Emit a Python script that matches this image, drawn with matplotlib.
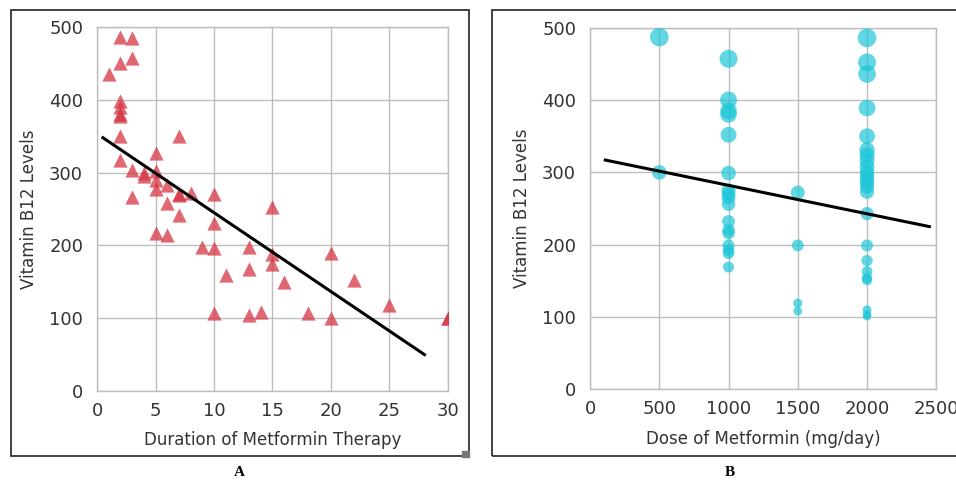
import matplotlib.pyplot as plt
from matplotlib.patches import Rectangle
import numpy as np

# Panel A: duration of therapy (years) vs B12
duration = [1, 2, 3, 3, 2, 2, 2, 2, 2, 2, 2, 7, 3, 4, 4, 5, 5, 5, 5, 6, 6, 3, 7, 7, 8,
            7, 5, 6, 10, 10, 9, 10, 13, 15, 15, 15, 11, 13, 16, 20, 22, 25, 10, 13, 14,
            18, 20, 30, 30]
b12_a = [435, 487, 485, 458, 451, 399, 390, 381, 378, 350, 317, 351, 304, 299, 296,
         327, 302, 290, 277, 283, 258, 267, 270, 269, 272, 242, 217, 215, 270, 231,
         198, 197, 198, 253, 188, 175, 160, 167, 150, 189, 152, 118, 107, 104, 109,
         107, 100, 101, 101]
trend_a_x = [0.5, 28]
trend_a_y = [348, 50]

# Panel B: dose (mg/day) vs B12
dose = [500, 500,
        1000, 1000, 1000, 1000, 1000, 1000, 1000, 1000, 1000, 1000, 1000, 1000, 1000,
        1000, 1000, 1000, 1000,
        1500, 1500, 1500, 1500,
        2000, 2000, 2000, 2000, 2000, 2000, 2000, 2000, 2000, 2000, 2000, 2000, 2000,
        2000, 2000, 2000, 2000, 2000, 2000, 2000, 2000, 2000, 2000, 2000]
b12_b = [487, 300,
         457, 400, 385, 380, 352, 299, 275, 270, 265, 256, 232, 220, 216, 199, 192,
         188, 169,
         272, 199, 119, 108,
         486, 452, 436, 389, 350, 331, 324, 316, 308, 300, 295, 290, 285, 280, 273,
         243, 199, 178, 163, 154, 151, 110, 104, 101]
trend_b_x = [110, 2450]
trend_b_y = [317, 225]

grid_c = '#bdbdbd'
text_c = '#333333'

fig = plt.figure(figsize=(9.56, 4.84), dpi=100)
fig.patch.set_facecolor('white')


def style(ax, xlabel):
    ax.grid(True, color=grid_c, lw=1)
    ax.set_axisbelow(True)
    for s in ax.spines.values():
        s.set_color(grid_c)
        s.set_linewidth(1)
    ax.tick_params(length=0, labelsize=13, colors=text_c)
    ax.tick_params(axis='y', pad=10)
    ax.tick_params(axis='x', pad=8)
    ax.set_ylim(0, 500)
    ax.set_yticks([0, 100, 200, 300, 400, 500])
    ax.set_ylabel('Vitamin B12 Levels', fontsize=12, color=text_c, labelpad=8)
    ax.set_xlabel(xlabel, fontsize=12, color=text_c, labelpad=8)


axA = fig.add_axes([0.1015, 0.1921, 0.367, 0.752])
axA.scatter(duration, b12_a, marker='^', s=105, color='#d63644', alpha=0.75,
            linewidths=0, zorder=3)
axA.plot(trend_a_x, trend_a_y, color='black', lw=2.2, zorder=4)
axA.set_xlim(0, 30)
axA.set_xticks([0, 5, 10, 15, 20, 25, 30])
style(axA, 'Duration of Metformin Therapy')

axB = fig.add_axes([0.6172, 0.1957, 0.3622, 0.747])
sizes = np.array(b12_b) * 0.37
axB.scatter(dose, b12_b, s=sizes, color='#1cc6d8', alpha=0.7,
            linewidths=0, zorder=3)
axB.plot(trend_b_x, trend_b_y, color='black', lw=2.2, zorder=4)
axB.set_xlim(0, 2500)
axB.set_xticks([0, 500, 1000, 1500, 2000, 2500])
style(axB, 'Dose of Metformin (mg/day)')

# panel frames
fig.patches.append(Rectangle((11 / 956, 1 - 456 / 484), 458 / 956, 446 / 484,
                             transform=fig.transFigure, fill=False,
                             edgecolor='#333333', lw=1.3))
fig.patches.append(Rectangle((492 / 956, 1 - 456 / 484), 470 / 956, 446 / 484,
                             transform=fig.transFigure, fill=False,
                             edgecolor='#333333', lw=1.3))
fig.patches.append(Rectangle((462 / 956, 1 - 457 / 484), 7 / 956, 6 / 484,
                             transform=fig.transFigure, color='#777777'))

fig.text(239 / 956, 1 - 473 / 484, 'A', ha='center', va='center',
         family='Liberation Serif', fontweight='bold', fontsize=11)
fig.text(730 / 956, 1 - 473 / 484, 'B', ha='center', va='center',
         family='Liberation Serif', fontweight='bold', fontsize=11)

fig.savefig('out.png', dpi=100)
